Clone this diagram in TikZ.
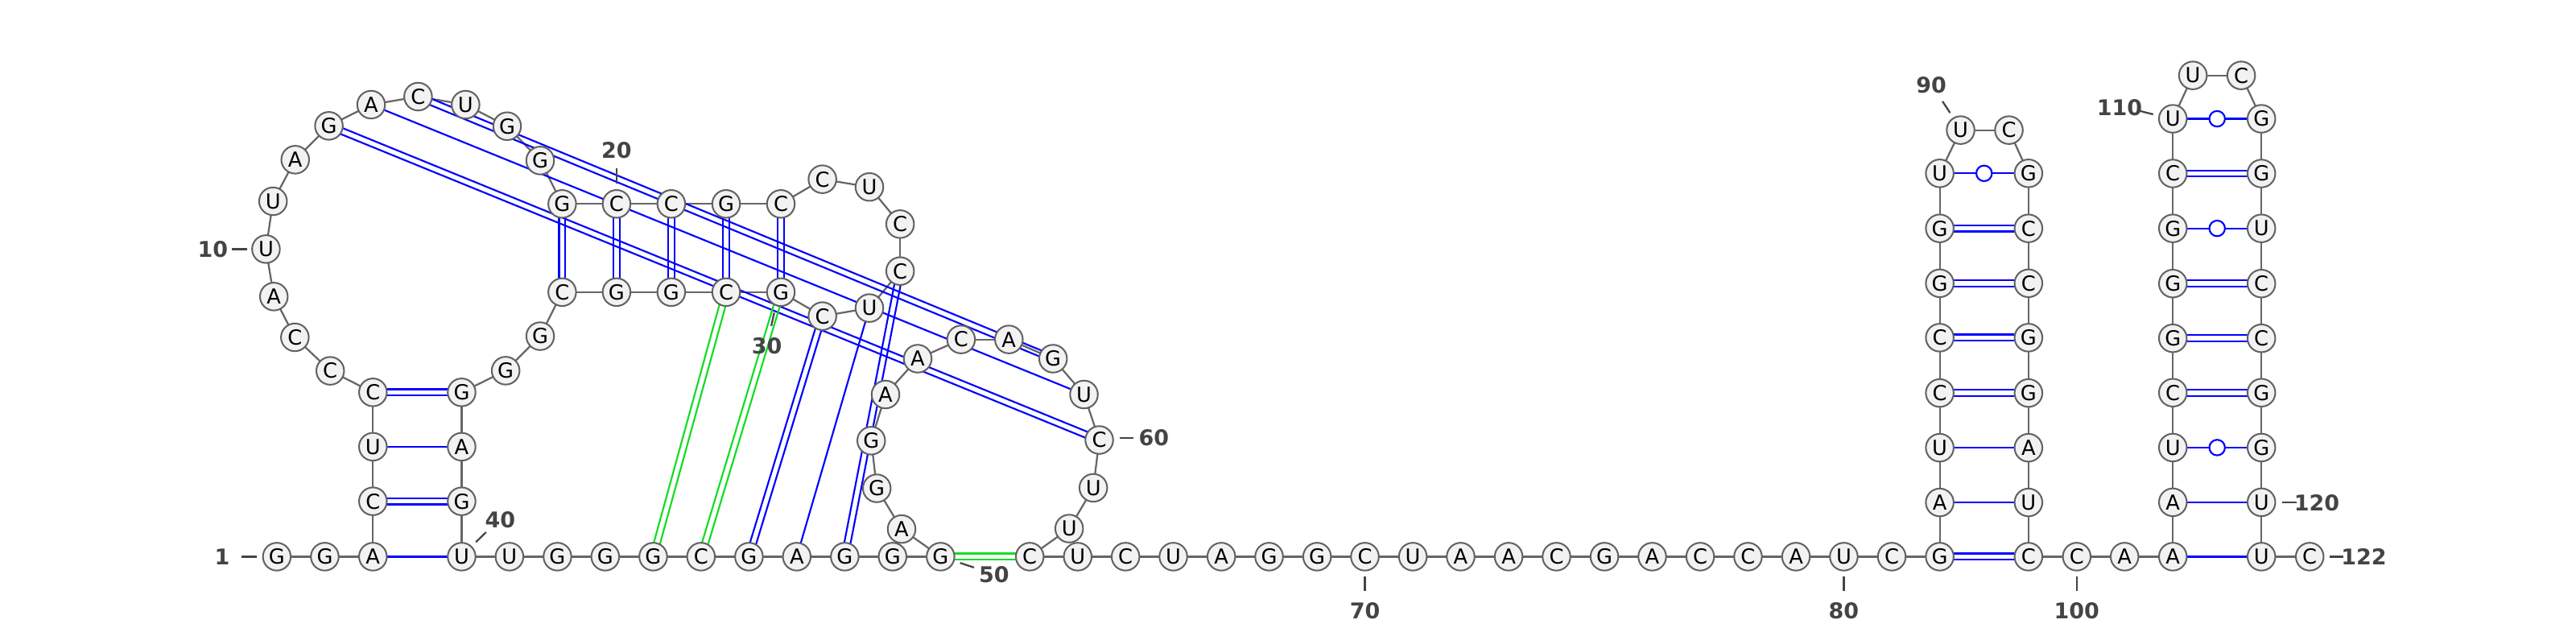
\documentclass[tikz,border=0pt]{standalone}
\usepackage{fontspec}
\setmainfont{DejaVu Sans}
\usetikzlibrary{calc}
\pgfdeclarelayer{bg}
\pgfsetlayers{bg,main}
\definecolor{nfill}{HTML}{F2F2F2}
\definecolor{nedge}{HTML}{626262}
\definecolor{bbone}{HTML}{666666}
\definecolor{lbl}{HTML}{444444}
\definecolor{pgreen}{HTML}{11DD22}
\tikzset{
  nt/.style={circle, draw=nedge, fill=nfill, line width=1pt, minimum size=16.9pt, inner sep=0pt, font=\fontsize{12.6}{13}\selectfont},
  bb/.style={draw=bbone, line width=1.1pt},
  pairline/.style={draw=blue, line width=1.05pt},
  gline/.style={draw=pgreen, line width=1.05pt},
  gucirc/.style={circle, draw=blue, fill=white, line width=1.05pt, minimum size=9.5pt, inner sep=0pt},
  numlbl/.style={text=lbl, font=\bfseries\fontsize{13.2}{14}\selectfont, inner sep=0pt},
  ticka/.style={draw=lbl, line width=1.1pt},
}
\newcommand{\dpair}[3]{%
  \draw[#1] ($(#2.center)!1.9pt!90:(#3.center)$) -- ($(#3.center)!1.9pt!-90:(#2.center)$);
  \draw[#1] ($(#2.center)!1.9pt!-90:(#3.center)$) -- ($(#3.center)!1.9pt!90:(#2.center)$);
}
\begin{document}
\begin{tikzpicture}[x=1pt,y=-1pt]
\useasboundingbox (0,0) rectangle (1568,384.6);
% nucleotides
\foreach \i/\x/\y/\b in {
1/168.5/338.8/G, 2/197.7/338.8/G, 3/227.0/338.8/A, 4/227.0/305.1/C, 5/227.0/271.9/U,
6/227.0/238.8/C, 7/201.0/225.7/C, 8/179.5/205.3/C, 9/166.7/180.5/A, 10/161.9/151.6/U,
11/166.2/122.5/U, 12/179.7/97.2/A, 13/200.2/76.6/G, 14/225.9/63.7/A, 15/254.5/58.8/C,
16/283.4/63.7/U, 17/308.7/76.8/G, 18/328.8/97.7/G, 19/342.2/124.1/G, 20/375.3/124.1/C,
21/408.6/124.1/C, 22/442.0/124.1/G, 23/475.3/124.1/C, 24/500.6/109.1/C, 25/529.2/113.8/U,
26/547.9/136.4/C, 27/547.9/165.0/C, 28/529.2/187.5/U, 29/500.6/192.4/C, 30/475.3/177.8/G,
31/442.0/177.8/C, 32/408.6/177.8/G, 33/375.3/177.8/G, 34/342.2/177.8/C, 35/328.8/204.6/G,
36/307.8/225.6/G, 37/281.0/238.8/G, 38/281.0/271.9/A, 39/281.0/305.1/G, 40/281.0/338.8/U,
41/310.1/338.8/U, 42/339.3/338.8/G, 43/368.4/338.8/G, 44/397.6/338.8/G, 45/426.7/338.8/C,
46/455.9/338.8/G, 47/485.0/338.8/A, 48/514.2/338.8/G, 49/543.3/338.8/G, 50/572.5/338.8/G,
51/548.8/322.0/A, 52/533.7/297.2/G, 53/530.3/268.2/G, 54/539.0/240.1/A, 55/558.6/218.3/A,
56/585.0/206.6/C, 57/614.1/206.6/A, 58/641.0/218.3/G, 59/659.8/240.1/U, 60/669.1/267.8/C,
61/665.5/296.9/U, 62/650.8/321.7/U, 63/626.8/338.8/C, 64/656.0/338.8/U, 65/685.1/338.8/C,
66/714.2/338.8/U, 67/743.4/338.8/A, 68/772.5/338.8/G, 69/801.7/338.8/G, 70/830.8/338.8/C,
71/860.0/338.8/U, 72/889.1/338.8/A, 73/918.3/338.8/A, 74/947.4/338.8/C, 75/976.6/338.8/G,
76/1005.7/338.8/A, 77/1034.9/338.8/C, 78/1064.0/338.8/C, 79/1093.2/338.8/A, 80/1122.3/338.8/U,
81/1151.5/338.8/C, 82/1180.7/338.8/G, 83/1180.7/305.8/A, 84/1180.7/272.5/U, 85/1180.7/239.2/C,
86/1180.7/205.5/C, 87/1180.7/172.4/G, 88/1180.7/139.0/G, 89/1180.7/105.5/U, 90/1193.4/79.2/U,
91/1222.8/79.2/C, 92/1234.7/105.5/G, 93/1234.7/139.0/C, 94/1234.7/172.4/C, 95/1234.7/205.5/G,
96/1234.7/239.2/G, 97/1234.7/272.5/A, 98/1234.7/305.8/U, 99/1234.7/338.8/C, 100/1264.1/338.8/C,
101/1293.2/338.8/A, 102/1322.6/338.8/A, 103/1322.6/305.7/A, 104/1322.6/272.4/U, 105/1322.6/239.0/C,
106/1322.6/205.9/G, 107/1322.6/172.6/G, 108/1322.6/139.0/G, 109/1322.6/105.6/C, 110/1322.6/72.3/U,
111/1334.8/45.9/U, 112/1364.2/45.9/C, 113/1376.5/72.3/G, 114/1376.5/105.6/G, 115/1376.5/139.0/U,
116/1376.5/172.6/C, 117/1376.5/205.9/C, 118/1376.5/239.0/G, 119/1376.5/272.4/G, 120/1376.5/305.7/U,
121/1376.5/338.8/U, 122/1405.9/338.8/C}
  \node[nt] (n\i) at (\x,\y) {\b};
\begin{pgfonlayer}{bg}
% backbone
\foreach \i in {1,...,121}{
  \pgfmathtruncatemacro{\j}{\i+1}
  \draw[bb] (n\i.center) -- (n\j.center);
}
% single pairs
\foreach \a/\b in {3/40, 5/38, 14/59, 28/47, 83/98, 84/97, 102/121, 103/120}
  \draw[pairline] (n\a.center) -- (n\b.center);
% double pairs
\foreach \a/\b in {4/39, 6/37, 13/60, 15/58, 19/34, 20/33, 21/32, 22/31, 23/30, 27/48, 29/46,
  82/99, 85/96, 86/95, 87/94, 88/93, 105/118, 106/117, 107/116, 109/114}
  {\dpair{pairline}{n\a}{n\b}}
% green pairs
\foreach \a/\b in {30/45, 31/44, 50/63}
  {\dpair{gline}{n\a}{n\b}}
% wobble pairs
\foreach \a/\b in {89/92, 104/119, 108/115, 110/113}
  \draw[pairline] (n\a.center) -- (n\b.center);
\end{pgfonlayer}
\foreach \a/\b in {89/92, 104/119, 108/115, 110/113}
  \node[gucirc] (gu\a) at ($(n\a)!0.5!(n\b)$) {};
% numbering
\node[numlbl] (l1) at (135.2,338.8) {1};
\draw[ticka] (147.2,338.8) -- (156.5,338.8);
\node[numlbl] (l10) at (129.6,151.9) {10};
\draw[ticka] (140.9,151.6) -- (150.3,151.6);
\node[numlbl] (l20) at (375.3,91.5) {20};
\draw[ticka] (375.3,102.6) -- (375.3,111.6);
\node[numlbl] (l30) at (466.8,210.7) {30};
\draw[ticka] (471.2,190.3) -- (469.5,198.4);
\node[numlbl] (l40) at (304.5,316.5) {40};
\draw[ticka] (289.7,329.9) -- (295.9,323.9);
\node[numlbl] (l50) at (605.1,349.5) {50};
\draw[ticka] (584.4,342.6) -- (592.9,345.4);
\node[numlbl] (l60) at (702.3,266.2) {60};
\draw[ticka] (681.4,266.5) -- (689.7,266.5);
\node[numlbl] (l70) at (830.8,371.9) {70};
\draw[ticka] (830.8,351) -- (830.8,359.6);
\node[numlbl] (l80) at (1122.3,371.9) {80};
\draw[ticka] (1122.3,351) -- (1122.3,359.6);
\node[numlbl] (l90) at (1175.6,51.8) {90};
\draw[ticka] (1182.4,61.7) -- (1187,68.7);
\node[numlbl] (l100) at (1264.1,371.9) {100};
\draw[ticka] (1264.1,351) -- (1264.1,359.6);
\node[numlbl] (l110) at (1290.2,65.5) {110};
\draw[ticka] (1301.6,67.3) -- (1310.6,69.6);
\node[numlbl] (l120) at (1410.2,306.2) {120};
\draw[ticka] (1389,305.7) -- (1398,305.7);
\node[numlbl] (l122) at (1438.8,339) {122};
\draw[ticka] (1418,338.8) -- (1426.6,338.8);
\end{tikzpicture}
\end{document}
